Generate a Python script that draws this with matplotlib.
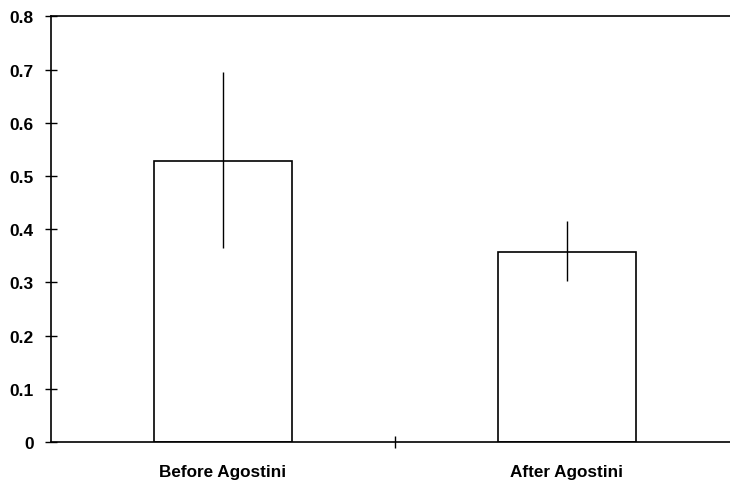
import numpy as np
import matplotlib.pyplot as plt

plt.rcParams['font.family'] = ['Liberation Sans', 'DejaVu Sans']

# data
groups = ['Before Agostini', 'After Agostini']
means = [0.529, 0.358]
err_low = [0.364, 0.302]
err_high = [0.695, 0.416]

yerr = np.array([np.array(means) - np.array(err_low),
                 np.array(err_high) - np.array(means)])

fig = plt.figure(figsize=(7.3, 4.81), dpi=100)
ax = fig.add_axes([51/730, 38/481, 688/730, 425.6/481])

x = np.arange(len(groups))
ax.bar(x, means, width=0.40, color='white', edgecolor='black', linewidth=1.2)
ax.errorbar(x, means, yerr=yerr, fmt='none', ecolor='black', elinewidth=1.0, capsize=0)

ax.set_xlim(-0.5, 1.5)
ax.set_ylim(0, 0.8)
ax.set_yticks(np.arange(0, 0.81, 0.1))
ax.set_yticklabels(['0'] + ['%.1f' % v for v in np.arange(0.1, 0.81, 0.1)])
ax.set_xticks(x)
ax.set_xticklabels(groups)
ax.set_xticks([0.5], minor=True)

ax.tick_params(axis='y', direction='inout', length=9, width=1.0, pad=8,
               labelsize=12.5)
ax.tick_params(axis='x', which='major', length=0, pad=16, labelsize=12.3)
ax.tick_params(axis='x', which='minor', direction='inout', length=9, width=1.0)
for lab in ax.get_xticklabels() + ax.get_yticklabels():
    lab.set_fontweight('bold')

ax.spines['right'].set_visible(False)
for s in ['left', 'bottom', 'top']:
    ax.spines[s].set_linewidth(1.2)

fig.savefig('out.png', dpi=100)
